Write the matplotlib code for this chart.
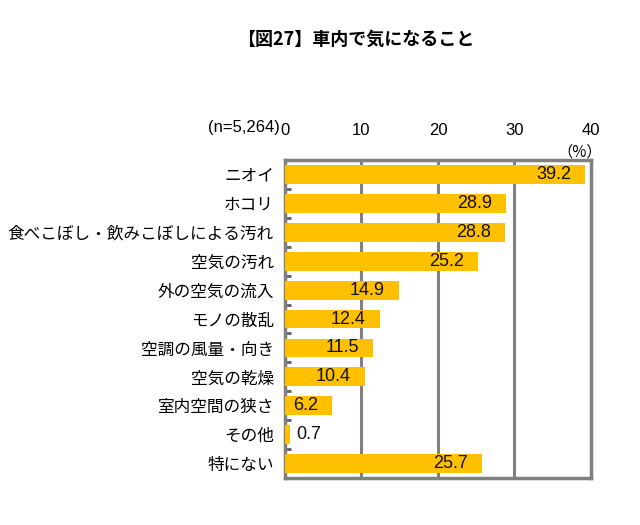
import matplotlib
matplotlib.use("Agg")
import matplotlib.pyplot as plt

plt.rcParams['font.family'] = ['Noto Sans CJK JP', 'DejaVu Sans']

categories = ["ニオイ", "ホコリ", "食べこぼし・飲みこぼしによる汚れ", "空気の汚れ",
              "外の空気の流入", "モノの散乱", "空調の風量・向き", "空気の乾燥",
              "室内空間の狭さ", "その他", "特にない"]
values = [39.2, 28.9, 28.8, 25.2, 14.9, 12.4, 11.5, 10.4, 6.2, 0.7, 25.7]
xticks = [0, 10, 20, 30, 40]
title = "【図27】車内で気になること"
sample_note = "(n=5,264)"
unit = "（%）"

num_font = ['Liberation Sans', 'DejaVu Sans']

fig = plt.figure(figsize=(6.4, 5.25), dpi=100)
ax = fig.add_axes([0.4453, 0.0895, 0.478, 0.6057])

n = len(categories)
ypos = list(range(n))
ax.barh(ypos, values, height=0.65, color="#FFC000", zorder=3)
ax.set_ylim(n - 0.5, -0.5)
ax.set_xlim(0, 40)

for g in xticks[1:-1]:
    ax.axvline(g, color="#808080", lw=2.2, zorder=1)

for s in ax.spines.values():
    s.set_color("#808080")
    s.set_linewidth(2.5)

ax.xaxis.tick_top()
ax.set_xticks(xticks)
ax.set_xticklabels([str(t) for t in xticks], fontsize=12, family=num_font)
ax.tick_params(axis='x', length=0, pad=16)
ax.set_yticks(ypos)
ax.set_yticklabels(categories, fontsize=12)
ax.tick_params(axis='y', length=0, pad=8)
ax.set_yticks([i + 0.5 for i in range(n - 1)], minor=True)
ax.tick_params(axis='y', which='minor', length=4, width=2, color="#606060", direction='in')

for y, v in zip(ypos, values):
    if v >= 3:
        ax.annotate(f"{v:.1f}", (v, y), xytext=(-10, 0), textcoords='offset points',
                    ha='right', va='center', fontsize=13, family=num_font,
                    color="#111111", zorder=4)
    else:
        ax.annotate(f"{v:.1f}", (v, y), xytext=(4, 0), textcoords='offset points',
                    ha='left', va='center', fontsize=13, family=num_font,
                    color="#111111", zorder=4)

fig.text(0.555, 0.925, title, ha='center', va='center', fontsize=13, fontweight='bold')
fig.text(0.438, 0.757, sample_note, ha='right', va='center', fontsize=12, family=num_font)
fig.text(0.905, 0.71, unit, ha='center', va='center', fontsize=11)

fig.savefig("out.png", dpi=100)
